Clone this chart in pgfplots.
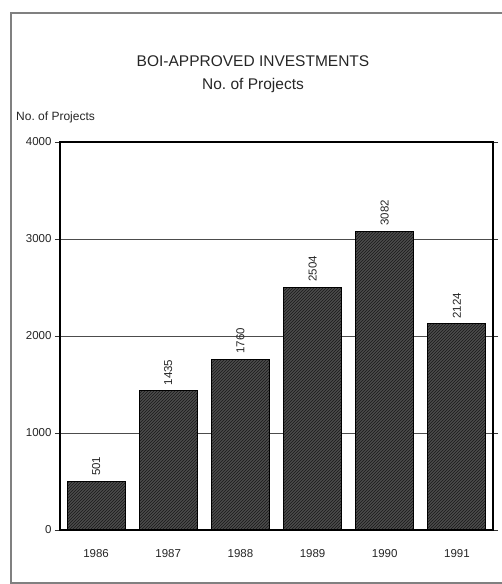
\documentclass[border=0pt]{standalone}
\usepackage{pgfplots}
\pgfplotsset{compat=1.18}
\usepackage{fontspec}
\setmainfont{Liberation Sans}
\usetikzlibrary{patterns}
\begin{document}
\begin{tikzpicture}
\path[use as bounding box] (0,0) rectangle (502pt,584pt);
\clip (0,0) rectangle (502pt,584pt);
\fill[white] (0,0) rectangle (502pt,584pt);
\draw[black!50, line width=1.2pt] (11pt,1pt) rectangle (530pt,571pt);
\node[text=black!85, font=\fontsize{15.5}{18}\selectfont] at (253pt,523pt) {BOI-APPROVED INVESTMENTS};
\node[text=black!85, font=\fontsize{15.5}{18}\selectfont] at (253pt,499pt) {No.\ of Projects};
\node[text=black!85, anchor=west, inner sep=0pt, font=\fontsize{12}{14}\selectfont] at (16pt,467pt) {No.\ of Projects};
\begin{axis}[
    at={(60pt,54pt)}, anchor=south west,
    scale only axis, width=433pt, height=388pt,
    xmin=-0.5, xmax=5.5, ymin=0, ymax=4000,
    ytick={0,1000,2000,3000,4000},
    xtick={0,1,2,3,4,5},
    xticklabels={1986,1987,1988,1989,1990,1991},
    minor xtick={0.5,1.5,2.5,3.5,4.5},
    xtick style={draw=none},
    minor tick length=4pt,
    major tick length=5pt,
    tick align=outside,
    tick style={black!80, line width=0.8pt},
    axis line style={black, line width=1.2pt},
    ymajorgrids, grid style={black!70, line width=0.9pt},
    /pgf/number format/assume math mode=true,
    /pgf/number format/set thousands separator={},
    tick label style={text=black!85, font=\fontsize{11.5}{13}\selectfont},
    xticklabel style={yshift=-11pt},
    nodes near coords,
    nodes near coords style={rotate=90, anchor=west, text=black!85, font=\fontsize{11.5}{13}\selectfont, inner sep=5pt},
]
\addplot[ybar, bar width=58pt, draw=black, line width=1pt, fill=black!70,
    postaction={pattern=north east lines, pattern color=black!90}]
    coordinates {(0,501) (1,1435) (2,1760) (3,2504) (4,3082) (5,2124)};
\end{axis}
\end{tikzpicture}
\end{document}
